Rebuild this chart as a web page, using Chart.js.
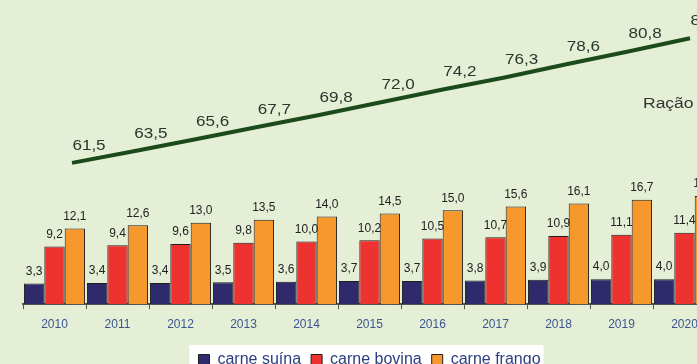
<!DOCTYPE html>
<html>
<head>
<meta charset="utf-8">
<script src="https://cdn.jsdelivr.net/npm/chart.js@4.4.0/dist/chart.umd.min.js"></script>
<style>
  html, body { margin: 0; padding: 0; background: #e4efd6; overflow: hidden; width: 697px; height: 364px; }
  #wrap { position: relative; width: 730px; height: 378px; }
  #wrap canvas { position: absolute; left: 0; top: 0; display: block; }
</style>
</head>
<body>
<div id="wrap">
  <canvas id="bars" width="730" height="378"></canvas>
  <canvas id="line" width="730" height="378"></canvas>
</div>
<script>
const categories = ['2010','2011','2012','2013','2014','2015','2016','2017','2018','2019','2020'];
const carneSuina  = [3.3, 3.4, 3.4, 3.5, 3.6, 3.7, 3.7, 3.8, 3.9, 4.0, 4.0];
const carneBovina = [9.2, 9.4, 9.6, 9.8, 10.0, 10.2, 10.5, 10.7, 10.9, 11.1, 11.4];
const carneFrango = [12.1, 12.6, 13.0, 13.5, 14.0, 14.5, 15.0, 15.6, 16.1, 16.7, 17.3];
const racao       = [61.5, 63.5, 65.6, 67.7, 69.8, 72.0, 74.2, 76.3, 78.6, 80.8, 83.1];
const seriesNames = ['carne suína', 'carne bovina', 'carne frango'];
const lineName = 'Ração (milhões t)';

const FONT = '"Liberation Sans", Arial, sans-serif';
const fmt = v => v.toFixed(1).replace('.', ',');

const bgPlugin = {
  id: 'bg',
  beforeDraw(chart) {
    const ctx = chart.ctx;
    ctx.save();
    ctx.fillStyle = '#e4efd6';
    ctx.fillRect(0, 0, chart.width, chart.height);
    const lg = chart.legend;
    if (lg && lg.legendHitBoxes && lg.legendHitBoxes.length) {
      let x0 = Infinity, x1 = -Infinity, y0 = Infinity;
      lg.legendHitBoxes.forEach(b => { x0 = Math.min(x0, b.left); x1 = Math.max(x1, b.left + b.width); y0 = Math.min(y0, b.top); });
      ctx.fillStyle = '#ffffff';
      ctx.fillRect(x0 - 9, y0 - 7, x1 - x0 + 12, chart.height - y0 + 7);
    }
    ctx.restore();
  }
};

const barLabels = {
  id: 'barLabels',
  afterDatasetsDraw(chart) {
    const ctx = chart.ctx;
    ctx.save();
    ctx.font = '12px ' + FONT;
    ctx.fillStyle = '#222222';
    ctx.textAlign = 'center';
    ctx.textBaseline = 'middle';
    chart.data.datasets.forEach((ds, di) => {
      chart.getDatasetMeta(di).data.forEach((el, i) => {
        ctx.fillText(fmt(ds.data[i]), el.x, el.y - 12);
      });
    });
    ctx.restore();
  }
};

new Chart(document.getElementById('bars'), {
  type: 'bar',
  data: {
    labels: categories,
    datasets: [
      { label: seriesNames[0], data: carneSuina,  backgroundColor: '#2e2a6c', borderColor: '#1e1e1e', borderWidth: 1 },
      { label: seriesNames[1], data: carneBovina, backgroundColor: '#ee3230', borderColor: '#1e1e1e', borderWidth: 1 },
      { label: seriesNames[2], data: carneFrango, backgroundColor: '#f7982c', borderColor: '#1e1e1e', borderWidth: 1 }
    ]
  },
  options: {
    responsive: false,
    animation: false,
    devicePixelRatio: 1,
    layout: { padding: { top: 10, left: 23, right: 14, bottom: 0 } },
    datasets: { bar: { categoryPercentage: 0.97, barPercentage: 1.0 } },
    scales: {
      x: {
        offset: true,
        afterFit: s => { s.height = 37.8; },
        grid: { display: true, drawOnChartArea: false, offset: true, color: '#555555', tickLength: 5, tickWidth: 1 },
        border: { display: true, color: '#555555', width: 2 },
        ticks: { color: '#3b5592', font: { size: 12, family: FONT }, padding: 8 }
      },
      y: { display: false, min: 0, max: 47 }
    },
    plugins: {
      legend: {
        position: 'bottom',
        labels: {
          boxWidth: 11, boxHeight: 11, padding: 10,
          color: '#2c3d7e',
          font: { size: 16, family: FONT }
        }
      },
      tooltip: { enabled: false }
    }
  },
  plugins: [bgPlugin, barLabels]
});

function wideText(ctx, text, x, y, sx) {
  ctx.save();
  ctx.translate(x, y);
  ctx.scale(sx, 1);
  ctx.fillText(text, 0, 0);
  ctx.restore();
}

const lineLabels = {
  id: 'lineLabels',
  afterDatasetsDraw(chart) {
    const ctx = chart.ctx;
    ctx.save();
    ctx.font = '14px ' + FONT;
    ctx.fillStyle = '#27392d';
    ctx.textAlign = 'center';
    ctx.textBaseline = 'middle';
    const ds = chart.data.datasets[0];
    chart.getDatasetMeta(0).data.forEach((el, i) => {
      wideText(ctx, fmt(ds.data[i].y), el.x + 17, el.y - 17, 1.22);
    });
    ctx.fillStyle = '#333333';
    ctx.textAlign = 'left';
    wideText(ctx, ds.label, 643, 104, 1.25);
    ctx.restore();
  }
};

new Chart(document.getElementById('line'), {
  type: 'line',
  data: {
    datasets: [
      { label: lineName, data: racao.map((v, i) => ({ x: Number(categories[i]), y: v })),
        borderColor: '#1b4a1b', borderWidth: 4, pointRadius: 0, tension: 0, fill: false }
    ]
  },
  options: {
    responsive: false,
    animation: false,
    devicePixelRatio: 1,
    layout: { padding: 0 },
    scales: {
      x: { type: 'linear', display: false, min: 2008.835, max: 2020.647 },
      y: { type: 'linear', display: false, min: 24.22, max: 89.72 }
    },
    plugins: { legend: { display: false }, tooltip: { enabled: false } }
  },
  plugins: [lineLabels]
});
</script>
</body>
</html>
